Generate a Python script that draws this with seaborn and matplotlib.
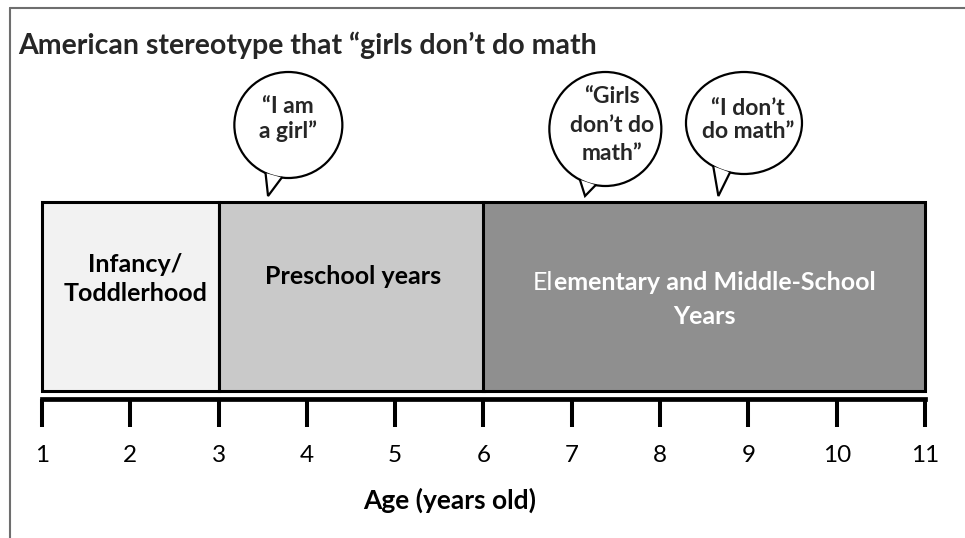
#!/usr/bin/env python3
"""Timeline of when the 'girls don't do math' stereotype shows up in childhood."""

import matplotlib

matplotlib.use("Agg")
import matplotlib.pyplot as plt  # noqa: E402
import numpy as np  # noqa: E402
import seaborn as sns  # noqa: E402
from matplotlib.lines import Line2D  # noqa: E402
from matplotlib.patches import Ellipse, Polygon  # noqa: E402

# --- data -------------------------------------------------------------------
stage_labels = ["Infancy/\nToddlerhood", "Preschool years", "Elementary and Middle-School\nYears"]
stage_start = [1, 3, 6]
stage_end = [3, 6, 11]

ages = list(range(1, 12))

quotes = [
    "\u201cI am\na girl\u201d",
    "\u201cGirls\ndon\u2019t do\nmath\u201d",
    "\u201cI don\u2019t\ndo math\u201d",
]
quote_age = [3.79, 7.38, 8.95]      # where each bubble sits on the age axis
quote_tip_age = [3.56, 7.15, 8.66]  # where its tail points

title = "American stereotype that \u201cgirls don\u2019t do math"

# --- layout (pixel units, y grows downwards) --------------------------------
W, H = 965, 538
PX_PER_YEAR = 88.3
X1_PX = 42  # pixel position of age 1
BOX_TOP, BOX_BOT = 202, 391
AXIS_Y = 399
stage_colors = ["#f2f2f2", "#c9c9c9", "#8f8f8f"]
stage_text_color = ["black", "black", "white"]
stage_text_y = [279, 277, 300]
stage_text_dx = [5, 2, 0]
STAGE_FS = 18

bubble_y = [125, 129, 123]
bubble_h = [106, 114, 102]
bubble_w_px = [108, 112, 116]
bubble_tail_deg = [(-115, -97), (-117, -100), (-122, -104)]
bubble_text_dx = [0, 7, 4]
bubble_text_y = [119, 125, 120]
bubble_linespacing = [1.2, 1.45, 1.15]
TIP_Y = 196

sns.set_theme(style="white")
plt.rcParams["font.family"] = ["Lato", "DejaVu Sans"]

fig = plt.figure(figsize=(W / 100, H / 100), dpi=100)
ax = fig.add_axes([0, 0, 1, 1])
ax.set_xlim(1 - X1_PX / PX_PER_YEAR, 1 + (W - X1_PX) / PX_PER_YEAR)
ax.set_ylim(H, 0)
ax.patch.set_alpha(0)

# stage boxes
widths = np.subtract(stage_end, stage_start)
ax.barh(
    (BOX_TOP + BOX_BOT) / 2,
    widths,
    left=stage_start,
    height=BOX_BOT - BOX_TOP,
    color=stage_colors,
    edgecolor="black",
    linewidth=2.2,
    zorder=2,
)
for i, lab in enumerate(stage_labels):
    mid = (stage_start[i] + stage_end[i]) / 2 + stage_text_dx[i] / PX_PER_YEAR
    if lab.startswith("El"):
        # the source has the first two letters in a lighter weight
        first, rest = lab.split("\n")
        t1 = ax.text(mid, stage_text_y[i] - 17, "El", ha="left", va="center",
                     fontsize=STAGE_FS, color=stage_text_color[i], zorder=3)
        t2 = ax.annotate(first[2:], xy=(1, 0), xycoords=t1, ha="left", va="bottom",
                         fontsize=STAGE_FS, fontweight="bold",
                         color=stage_text_color[i], zorder=3)
        ax.text(mid, stage_text_y[i] + 17, rest, ha="center", va="center",
                fontsize=STAGE_FS, fontweight="bold", color=stage_text_color[i], zorder=3)
        fig.canvas.draw()
        r = fig.canvas.get_renderer()
        w_all = t1.get_window_extent(r).width + t2.get_window_extent(r).width
        cx = ax.transData.transform((mid, 0))[0]
        t1.set_x(ax.transData.inverted().transform((cx - w_all / 2, 0))[0])
    else:
        ax.text(mid, stage_text_y[i], lab, ha="center", va="center", fontsize=STAGE_FS,
                fontweight="bold", color=stage_text_color[i], linespacing=1.3, zorder=3)

# age axis: bottom spine moved up under the boxes
for side in ("left", "right", "top"):
    ax.spines[side].set_visible(False)
ax.spines["bottom"].set_position(("data", AXIS_Y))
ax.spines["bottom"].set_bounds(ages[0], ages[-1])
ax.spines["bottom"].set_linewidth(3.4)
ax.spines["bottom"].set_color("black")
ax.set_xticks(ages)
ax.set_xticklabels([str(a) for a in ages])
ax.set_yticks([])
ax.tick_params(axis="x", bottom=True, direction="out", length=20, width=2.9,
               color="black", pad=13, labelsize=17.5, labelcolor="black")
ax.set_xlabel("Age (years old)", fontsize=19, fontweight="bold", color="black")
ax.xaxis.set_label_coords(450 / W, 1 - 500 / H)
ax.xaxis.label.set_va("center")
ax.grid(False)

# speech bubbles
for i, q in enumerate(quotes):
    a = bubble_w_px[i] / PX_PER_YEAR / 2
    b = bubble_h[i] / 2
    cx, cy = quote_age[i], bubble_y[i]
    ax.add_patch(Ellipse((cx, cy), 2 * a, 2 * b, facecolor="white",
                         edgecolor="black", linewidth=1.6, zorder=4))
    t0, t1_ = np.deg2rad(bubble_tail_deg[i])
    p1 = (cx + a * np.cos(t0), cy - b * np.sin(t0))
    p2 = (cx + a * np.cos(t1_), cy - b * np.sin(t1_))
    tip = (quote_tip_age[i], TIP_Y)
    ax.add_patch(Polygon([p1, tip, p2], closed=True, facecolor="white",
                         edgecolor="none", zorder=5))
    ax.plot([p1[0], tip[0], p2[0]], [p1[1], tip[1], p2[1]], color="black",
            linewidth=1.6, solid_joinstyle="miter", zorder=6)
    ax.text(cx + bubble_text_dx[i] / PX_PER_YEAR, bubble_text_y[i], q, ha="center",
            va="center", fontsize=16.5, fontweight="bold",
            linespacing=bubble_linespacing[i], zorder=7)

fig.text(18 / W, 1 - 45 / H, title, ha="left", va="center", fontsize=20.5,
         fontweight="bold", color="#262626")

# thin frame on the top and left edges
fig.add_artist(Line2D([10 / W, 1], [1 - 8 / H] * 2, transform=fig.transFigure,
                      color="#6e6e6e", linewidth=1.5))
fig.add_artist(Line2D([10 / W] * 2, [0, 1 - 8 / H], transform=fig.transFigure,
                      color="#6e6e6e", linewidth=1.5))

fig.savefig("out.png", dpi=100)
